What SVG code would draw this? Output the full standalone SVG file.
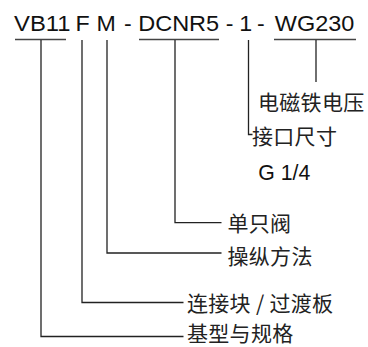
<svg xmlns="http://www.w3.org/2000/svg" width="368" height="347" viewBox="0 0 368 347">
<style>
.code{font-family:"Liberation Sans",Arial,sans-serif;font-size:21.5px;fill:#111}
.lbl{font-family:"Noto Sans CJK SC","Noto Sans CJK JP",sans-serif;font-size:21px;fill:#222;letter-spacing:0.3px}
.ul{stroke:#444;stroke-width:1.4;fill:none}
.ln{stroke:#222;stroke-width:1.3;fill:none}
</style>
<rect width="368" height="347" fill="#fff"/>
<g id="code">
<text class="code" x="14" y="30.5" textLength="56.5" lengthAdjust="spacingAndGlyphs">VB11</text>
<text class="code" x="75.4" y="30.5" textLength="14.2" lengthAdjust="spacingAndGlyphs">F</text>
<text class="code" x="96.6" y="30.5" textLength="19.3" lengthAdjust="spacingAndGlyphs">M</text>
<text class="code" x="124" y="30.5" textLength="7.7" lengthAdjust="spacingAndGlyphs">-</text>
<text class="code" x="138.2" y="30.5" textLength="81" lengthAdjust="spacingAndGlyphs">DCNR5</text>
<text class="code" x="225.7" y="30.5" textLength="7.7" lengthAdjust="spacingAndGlyphs">-</text>
<text class="code" x="239.2" y="30.5" textLength="12.9" lengthAdjust="spacingAndGlyphs">1</text>
<text class="code" x="257" y="30.5" textLength="7.7" lengthAdjust="spacingAndGlyphs">-</text>
<text class="code" x="274.8" y="30.5" textLength="79.5" lengthAdjust="spacingAndGlyphs">WG230</text>
</g>
<g id="underlines">
<line class="ul" x1="15" y1="39.5" x2="66" y2="39.5"/>
<line class="ul" x1="139" y1="39.5" x2="219" y2="39.5"/>
<line class="ul" x1="274" y1="39.5" x2="356" y2="39.5"/>
</g>
<g id="connectors">
<polyline class="ln" points="41,40 41,336.5 183.5,336.5"/>
<polyline class="ln" points="82,40 82,302.5 183.5,302.5"/>
<polyline class="ln" points="107,40 107,253 221.5,253"/>
<polyline class="ln" points="175,40 175,222.7 221.5,222.7"/>
<polyline class="ln" points="248.5,40 248.5,134.5 252.5,134.5"/>
<line class="ln" x1="316" y1="40" x2="316" y2="82"/>
</g>
<g id="n-voltage"><text class="lbl" x="258" y="109.7">电磁铁电压</text></g>
<g id="n-port"><text class="lbl" x="252" y="143.5">接口尺寸</text></g>
<g id="n-g14"><text class="code" x="258.3" y="180" textLength="52" lengthAdjust="spacingAndGlyphs">G 1/4</text></g>
<g id="n-single"><text class="lbl" x="227.5" y="231">单只阀</text></g>
<g id="n-operate"><text class="lbl" x="227.5" y="264">操纵方法</text></g>
<g id="n-block"><text class="lbl" x="187" y="311">连接块 / 过渡板</text></g>
<g id="n-base"><text class="lbl" x="187" y="341">基型与规格</text></g>
</svg>
